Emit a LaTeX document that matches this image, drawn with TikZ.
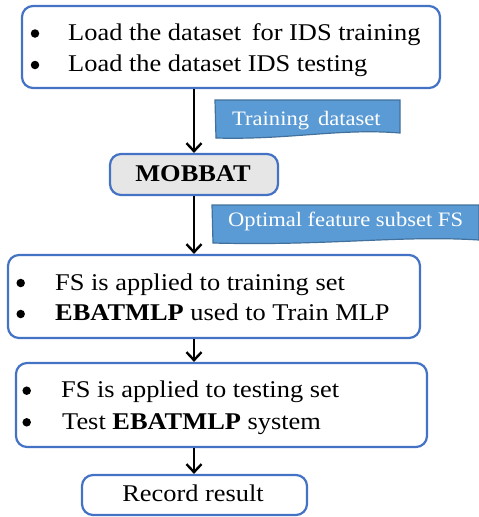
\documentclass[tikz,border=0pt]{standalone}
\usepackage{fontspec}
\setmainfont{Liberation Serif}[FakeStretch=1.1]
\usetikzlibrary{arrows.meta}
\definecolor{boxblue}{HTML}{4472C4}
\definecolor{lblfill}{HTML}{5B9BD5}
\definecolor{lblline}{HTML}{41719C}
\definecolor{mobfill}{HTML}{E7E6E6}
\begin{document}
\begin{tikzpicture}[x=1pt,y=-1pt,
  box/.style={draw=boxblue, line width=2.2pt, rounded corners=11pt, fill=white, inner sep=0pt},
  txt/.style={anchor=base west, inner sep=0pt, font=\fontsize{24}{28}\selectfont},
  ctxt/.style={anchor=base, inner sep=0pt, font=\fontsize{24}{28}\selectfont},
  bul/.style={circle, fill=black, inner sep=0pt, minimum size=8.5pt},
  lbltxt/.style={anchor=base west, inner sep=0pt, text=white, font=\fontsize{20.5}{24}\selectfont},
  lbl/.style={fill=lblfill, draw=lblline, line width=1.2pt},
  flow/.style={draw=black, line width=2.4pt, -{Straight Barb[length=8pt,width=15pt]}}
]
\useasboundingbox (0,0) rectangle (479,517);

% boxes
\node[box, minimum width=418pt, minimum height=82pt] (b1) at (231,47) {};
\node[box, fill=mobfill, minimum width=168pt, minimum height=41pt] (m) at (194,174.5) {};
\node[box, minimum width=412pt, minimum height=83pt] (b3) at (214,296.5) {};
\node[box, minimum width=411pt, minimum height=84pt] (b4) at (221.5,405) {};
\node[box, minimum width=225pt, minimum height=40pt] (b5) at (194.5,495) {};

% box 1 text
\node[bul] (b1a) at (35,33.5) {};
\node[txt] (b1b) at (68,40.7) {Load the dataset\, for IDS training};
\node[bul] (b1c) at (35,65) {};
\node[txt] (b1d) at (68,71.7) {Load the dataset IDS testing};

% MOBBAT
\node[ctxt] (mt) at (193,181.7) {\textbf{MOBBAT}};

% box 3 text
\node[bul] (b3a) at (20.7,283) {};
\node[txt] (b3b) at (55,290) {FS is applied to training set};
\node[bul] (b3c) at (20.7,314) {};
\node[txt] (b3d) at (55,320.7) {\textbf{EBATMLP} used to Train MLP};

% box 4 text
\node[bul] (b4a) at (26.7,390.7) {};
\node[txt] (b4b) at (61,397.7) {FS is applied to testing set};
\node[bul] (b4c) at (26.7,422.3) {};
\node[txt] (b4d) at (62,429.3) {Test \textbf{EBATMLP} system};

% record result
\node[ctxt] (b5t) at (193,501.7) {Record result};

% labels
\path[lbl] (215,100) -- (400,100) -- (400,133)
  .. controls (340,128) and (290,140) .. (216,138) -- cycle;
\node[lbltxt] (l1) at (232,125) {Training\, dataset};
\path[lbl] (212,205) -- (479,205) -- (479,240)
  .. controls (400,235) and (330,246) .. (213,243) -- cycle;
\node[lbltxt] (l2) at (228,226.7) {Optimal feature subset FS};

% arrows
\draw[flow] (m.north |- b1.south) -- (m.north);
\draw[flow] (m.south) -- (m.south |- b3.north);
\draw[flow] (m.south |- b3.south) -- (m.south |- b4.north);
\draw[flow] (m.south |- b4.south) -- (m.south |- b5.north);
\end{tikzpicture}
\end{document}
